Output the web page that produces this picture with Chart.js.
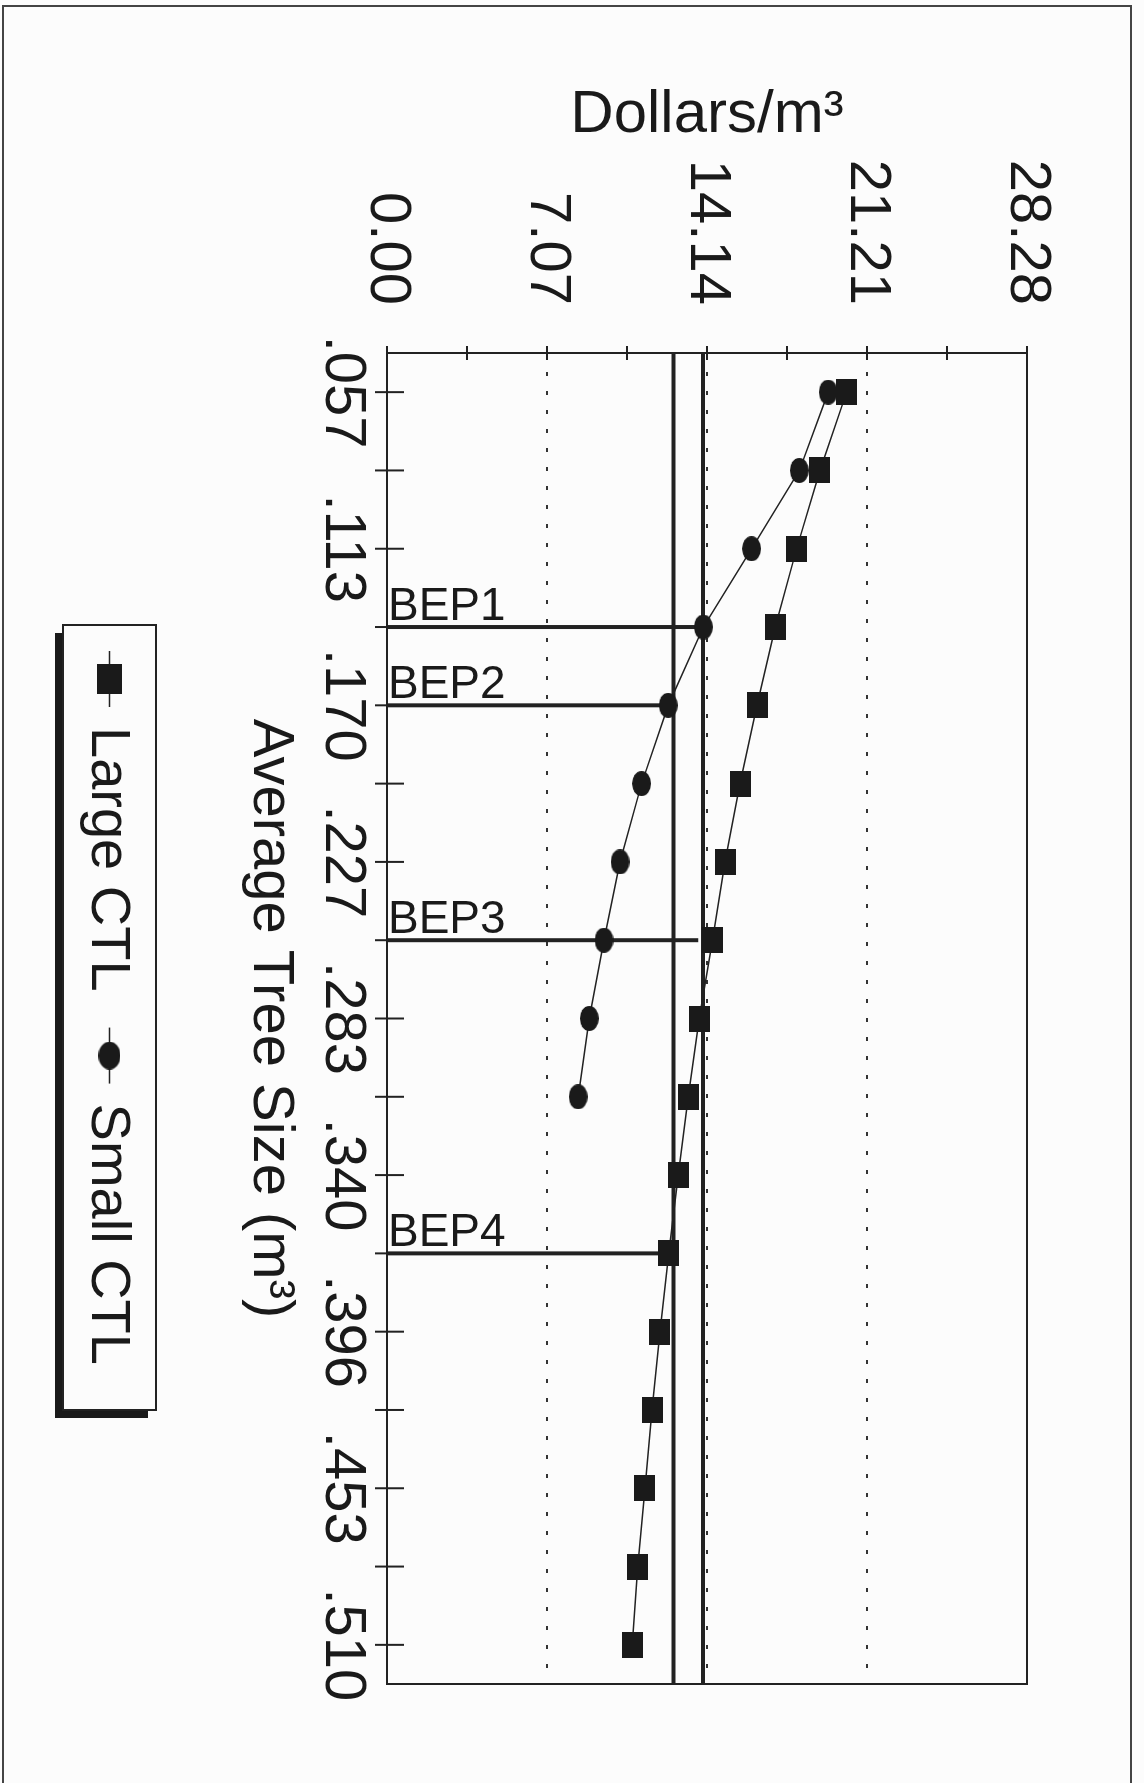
<!DOCTYPE html>
<html>
<head>
<meta charset="utf-8">
<script src="https://cdn.jsdelivr.net/npm/chart.js@4"></script>
<style>
  html, body { margin: 0; padding: 0; background: #fcfcfc; }
  body { width: 1144px; height: 1783px; position: relative; overflow: hidden; }
  #frame { position: absolute; left: 2px; top: 5px; width: 1126px; height: 1800px; border: 2px solid #444; border-bottom: none; }
  #wrap { position: absolute; left: 0; top: 0; width: 1783px; height: 1144px; transform-origin: 0 0; transform: translateX(1144px) rotate(90deg); }
</style>
</head>
<body>
<div id="frame"></div>
<div id="wrap"><canvas id="myChart" width="1783" height="1144"></canvas></div>
<script>
// average tree size (m3) categories
const sizes = ['.057', '.085', '.113', '.142', '.170', '.198', '.227', '.255', '.283', '.311', '.340', '.368', '.396', '.425', '.453', '.481', '.510'];
// cost in dollars/m3
const largeCTL = [20.31, 19.13, 18.10, 17.16, 16.35, 15.60, 14.94, 14.38, 13.80, 13.31, 12.87, 12.45, 12.06, 11.71, 11.40, 11.08, 10.84];
const smallCTL = [19.50, 18.22, 16.11, 13.98, 12.43, 11.25, 10.30, 9.59, 8.94, 8.45];
// break-even cost levels (thick lines)
const costLines = [12.66, 13.96];
// break-even points
const bepNames = ['BEP1', 'BEP2', 'BEP3', 'BEP4'];
const bepSizes = ['.142', '.170', '.255', '.368'];
const bepValues = [13.98, 12.43, 13.75, 12.45];
// dollar axis
const dollarMax = 28.28;
const dollarStep = 3.535;

Chart.defaults.font.family = '"Liberation Sans", Arial, sans-serif';
Chart.defaults.color = '#1a1a1a';

function marker(w, h, round) {
    const c = document.createElement('canvas');
    c.width = w;
    c.height = h;
    const g = c.getContext('2d');
    g.fillStyle = '#1a1a1a';
    if (round) {
        g.beginPath();
        g.ellipse(w / 2, h / 2, w / 2, h / 2, 0, 0, Math.PI * 2);
        g.fill();
    } else {
        g.fillRect(0, 0, w, h);
    }
    return c;
}
const squareMark = marker(26, 21, false);
const dotMark = marker(25, 19, true);
const squareKey = marker(30, 25, false);
const dotKey = marker(28, 22, true);

const datasets = [
    { label: 'Large CTL', data: largeCTL, borderColor: '#222', borderWidth: 1.5, pointStyle: squareMark, pointRadius: 13, tension: 0 },
    { label: 'Small CTL', data: smallCTL, borderColor: '#222', borderWidth: 1.5, pointStyle: dotMark, pointRadius: 12, tension: 0 }
];
bepNames.forEach((name, i) => {
    datasets.push({
        label: name,
        data: [{ x: bepSizes[i], y: 0 }, { x: bepSizes[i], y: bepValues[i] }],
        borderColor: '#222', borderWidth: 4, pointRadius: 0
    });
});
costLines.forEach(v => {
    datasets.push({
        label: 'cost ' + v,
        xAxisID: 'x2',
        data: [{ x: 0, y: v }, { x: 1, y: v }],
        borderColor: '#222', borderWidth: 4, pointRadius: 0
    });
});

// frame, ticks across the axes, BEP labels and the boxed legend
const decor = {
    id: 'decor',
    afterDraw(chart) {
        const { ctx, chartArea: a, scales } = chart;
        ctx.save();
        ctx.strokeStyle = '#222';
        ctx.lineWidth = 2;
        ctx.strokeRect(a.left, a.top, a.right - a.left, a.bottom - a.top);

        ctx.beginPath();
        scales.y.ticks.forEach((t, i) => {
            const p = scales.y.getPixelForTick(i);
            ctx.moveTo(a.left - 7, p);
            ctx.lineTo(a.left + 7, p);
        });
        sizes.forEach((s, i) => {
            const p = scales.x.getPixelForTick(i);
            ctx.moveTo(p, a.bottom + 12);
            ctx.lineTo(p, a.bottom - 17);
        });
        ctx.stroke();

        ctx.fillStyle = '#1a1a1a';
        ctx.font = '46px "Liberation Sans", Arial, sans-serif';
        ctx.textAlign = 'left';
        ctx.textBaseline = 'alphabetic';
        bepNames.forEach((n, i) => {
            const x = scales.x.getPixelForValue(sizes.indexOf(bepSizes[i]));
            ctx.save();
            ctx.translate(x - 7, a.bottom - 1);
            ctx.rotate(-Math.PI / 2);
            ctx.fillText(n, 0, 0);
            ctx.restore();
        });

        // legend
        const lx = a.left + 272, ly = a.bottom + 231, lw = 785, lh = 93;
        ctx.fillStyle = '#1a1a1a';
        ctx.fillRect(lx + 8, ly + 8, lw, lh);
        ctx.fillStyle = '#fcfcfc';
        ctx.fillRect(lx, ly, lw, lh);
        ctx.strokeRect(lx, ly, lw, lh);
        ctx.font = '56px "Liberation Sans", Arial, sans-serif';
        ctx.textBaseline = 'middle';
        const cy = ly + lh / 2;
        let x = lx + 26;
        [[datasets[0].label, squareKey], [datasets[1].label, dotKey]].forEach(([name, mk]) => {
            ctx.beginPath();
            ctx.lineWidth = 1.5;
            ctx.moveTo(x, cy);
            ctx.lineTo(x + 56, cy);
            ctx.stroke();
            ctx.drawImage(mk, x + 28 - mk.width / 2, cy - mk.height / 2);
            ctx.fillStyle = '#1a1a1a';
            ctx.fillText(name, x + 76, cy + 2);
            x += 76 + ctx.measureText(name).width + 36;
        });
        ctx.restore();
    }
};

const ctx = document.getElementById('myChart');
const myChart = new Chart(ctx, {
    type: 'line',
    data: {
        labels: sizes,
        datasets: datasets
    },
    options: {
        responsive: false,
        animation: false,
        events: [],
        layout: {
            padding: { top: 117, right: 99, bottom: 235, left: 79 }
        },
        scales: {
            x: {
                type: 'category',
                offset: true,
                grid: { display: false, drawTicks: false },
                border: { display: false },
                ticks: {
                    autoSkip: false,
                    maxRotation: 0,
                    padding: 10,
                    font: { size: 58 },
                    callback: function (v, i) {
                        return i % 2 === 0 ? sizes[i] : '';
                    }
                },
                title: {
                    display: true,
                    text: 'Average Tree Size (m³)',
                    font: { size: 58 },
                    padding: 0
                },
                afterFit: function (scale) {
                    scale.height = 152;
                }
            },
            x2: {
                type: 'linear',
                display: false,
                min: 0,
                max: 1
            },
            y: {
                min: 0,
                max: dollarMax,
                grid: {
                    drawTicks: false,
                    lineWidth: 2,
                    borderDash: [4, 15],
                    color: function (c) {
                        return (c.index % 2 === 0 && c.index > 0 && c.index < 8) ? '#333' : 'rgba(0,0,0,0)';
                    }
                },
                border: { display: false, dash: [4, 15] },
                ticks: {
                    stepSize: dollarStep,
                    padding: 48,
                    font: { size: 58 },
                    callback: function (v, i) {
                        return i % 2 === 0 ? v.toFixed(2) : '';
                    }
                },
                title: {
                    display: true,
                    text: 'Dollars/m³',
                    font: { size: 60 },
                    padding: 0
                },
                afterFit: function (scale) {
                    scale.width = 274;
                }
            }
        },
        plugins: {
            legend: false,
            tooltip: { enabled: false }
        }
    },
    plugins: [decor]
});
</script>
</body>
</html>
